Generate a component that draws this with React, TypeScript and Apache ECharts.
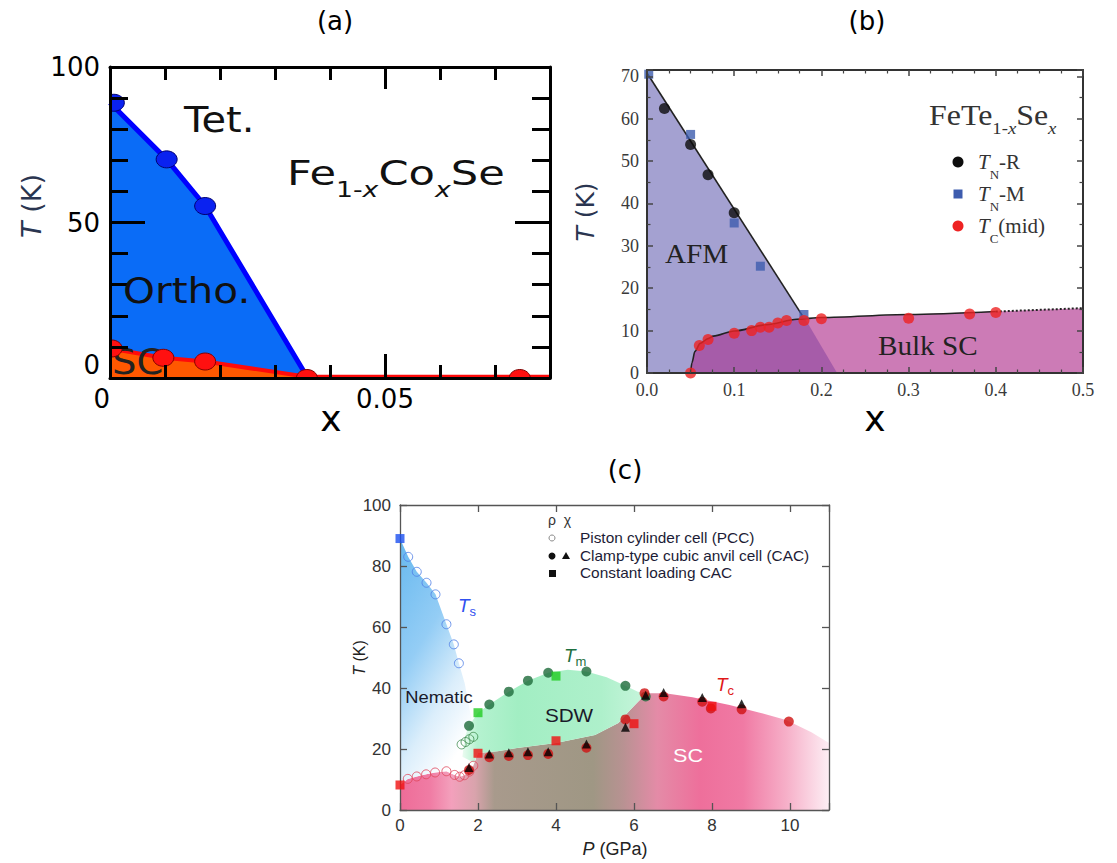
import React, { useEffect, useRef } from 'react';
import * as echarts from 'echarts';

// ---------------- Panel (a): Fe1-xCoxSe ----------------
const aStructX = [0.0007, 0.0103, 0.0173];
const aStructT = [88.5, 70.3, 55.3];
const aStructLineX = [0, 0.0103, 0.0173, 0.0358];
const aStructLineT = [88.5, 70.3, 55.3, 0.5];
const aScX = [0.0003, 0.0097, 0.0173, 0.0358, 0.0745];
const aScT = [9.5, 6.5, 5.3, 0, 0];
const aScLineX = [0, 0.0097, 0.0173, 0.0358, 0.08];
const aScLineT = [9.5, 6.5, 5.3, 0.4, 0.4];
const aOrthoPolyX = [0, 0, 0.0103, 0.0173, 0.0358, 0.0358];
const aOrthoPolyT = [0, 88.5, 70.3, 55.3, 0.5, 0];
const aScPolyX = [0, 0, 0.0097, 0.0173, 0.0358, 0.0358];
const aScPolyT = [0, 9.5, 6.5, 5.3, 0.4, 0];

// ---------------- Panel (b): FeTe1-xSex ----------------
const bTnRX = [0.02, 0.05, 0.07, 0.1];
const bTnRT = [62.4, 53.9, 46.8, 37.8];
const bTnMX = [0.002, 0.05, 0.1, 0.13, 0.18];
const bTnMT = [70.5, 56.3, 35.4, 25.2, 13.8];
const bTcX = [0.05, 0.06, 0.07, 0.1, 0.12, 0.13, 0.14, 0.15, 0.16, 0.18, 0.2, 0.3, 0.37, 0.4];
const bTcT = [0, 6.5, 7.9, 9.4, 10, 10.8, 10.8, 11.8, 12.4, 12.4, 12.8, 12.9, 13.9, 14.3];
const bAfmLineX = [0, 0.178];
const bAfmLineT = [70.8, 13.6];
const bScCurveX = [0.05, 0.0515, 0.055, 0.061, 0.07, 0.076, 0.1, 0.137, 0.172, 0.2, 0.3, 0.4];
const bScCurveT = [0, 2.4, 5.1, 7.0, 8.1, 8.7, 9.9, 11.4, 12.7, 13.1, 13.8, 14.5];
const bScDotX = [0.4, 0.45, 0.5];
const bScDotT = [14.5, 14.9, 15.3];
const bAfmPolyX = [0, 0, 0.178, 0.218];
const bAfmPolyT = [0, 70.8, 13.6, 0];
const bScPolyX = [0.05, 0.0515, 0.055, 0.061, 0.07, 0.076, 0.1, 0.137, 0.172, 0.2, 0.3, 0.4, 0.45, 0.5, 0.5];
const bScPolyT = [0, 2.4, 5.1, 7.0, 8.1, 8.7, 9.9, 11.4, 12.7, 13.1, 13.8, 14.5, 14.9, 15.3, 0];
const bOverPolyX = [0.05, 0.0515, 0.055, 0.061, 0.07, 0.076, 0.1, 0.137, 0.172, 0.181, 0.218];
const bOverPolyT = [0, 2.4, 5.1, 7.0, 8.1, 8.7, 9.9, 11.4, 12.7, 12.9, 0];

// ---------------- Panel (c): FeSe under pressure ----------------
const cTsSqP = [0];
const cTsSqT = [89];
const cTsOpenP = [0.21, 0.43, 0.68, 0.91, 1.19, 1.38, 1.51];
const cTsOpenT = [83, 78.1, 74.5, 70.7, 60.9, 54.3, 48.1];
const cTmOpenP = [1.58, 1.68, 1.78, 1.88];
const cTmOpenT = [21.5, 22.3, 23.2, 24];
const cTmCacP = [1.77, 2.29, 2.79, 3.28, 3.8, 4.78, 5.78, 6.3];
const cTmCacT = [27.6, 34.6, 38.8, 42.4, 45, 45.4, 40.7, 37.2];
const cTmSqP = [2, 4];
const cTmSqT = [31.9, 43.9];
const cTcOpenP = [0.2, 0.43, 0.67, 0.9, 1.19, 1.4, 1.53, 1.65, 1.78, 1.88];
const cTcOpenT = [10.2, 11, 11.7, 12.3, 12.7, 11.5, 10.9, 11.4, 12.6, 14.5];
const cTcSqP = [0, 2, 4, 6, 8];
const cTcSqT = [8.2, 18.6, 22.7, 28.3, 34];
const cTcCacP = [1.77, 2.29, 2.79, 3.28, 3.8, 4.78, 5.78, 6.27, 6.76, 7.75, 7.97, 8.76, 9.97];
const cTcCacT = [13.1, 17.3, 17.7, 18, 18.4, 20.4, 29.7, 38.3, 37.2, 35.5, 33.3, 33, 29];
const cTcChiP = [1.77, 2.29, 2.79, 3.28, 3.8, 4.78, 5.78, 6.3, 6.76, 7.75, 8.76];
const cTcChiT = [13.9, 18.4, 18.8, 19.1, 19.1, 21.6, 27.1, 37.6, 38.5, 36.9, 34.8];
const cNemPolyP = [0, 0, 0.21, 0.43, 0.68, 0.91, 1.19, 1.38, 1.51, 1.66, 1.8, 1.9, 1.95, 1.88, 1.78, 1.65, 1.53, 1.4, 1.19, 0.9, 0.67, 0.43, 0.2];
const cNemPolyT = [8.2, 89, 83, 78.1, 74.5, 70.7, 60.9, 54.3, 48.1, 41.5, 32, 24, 17, 14.5, 12.6, 11.4, 10.9, 11.5, 12.7, 12.3, 11.7, 11, 10.2];
const cScPolyP = [0, 0, 0.2, 0.43, 0.67, 0.9, 1.19, 1.4, 1.53, 1.65, 1.78, 1.9, 2.0, 2.5, 3, 4, 5, 5.6, 5.9, 6.2, 6.35, 6.8, 7.5, 8.45, 9.2, 9.9, 10.55, 11, 11];
const cScPolyT = [0, 8.2, 10.2, 11, 11.7, 12.3, 12.7, 11.5, 10.9, 11.4, 12.6, 15.5, 18.7, 19.3, 20.3, 22, 24.6, 28.5, 32.8, 36.7, 38.3, 38.3, 37, 34.4, 32, 29.5, 25.5, 22, 0];
const cSdwPolyP = [1.6, 1.66, 1.77, 2.0, 2.29, 2.79, 3.28, 3.8, 4.3, 4.78, 5.3, 5.78, 6.1, 6.35, 6.2, 5.9, 5.6, 5, 4, 3, 2.5, 2.0, 1.9];
const cSdwPolyT = [17.5, 24, 27.6, 31.9, 34.6, 38.8, 42.4, 45, 46, 45.4, 43.5, 40.7, 38.8, 38.3, 36.7, 32.8, 28.5, 24.6, 22, 20.3, 19.3, 18.7, 15.5];

const FA = 'DejaVu Sans';
const FB = 'Liberation Serif';
const FC = 'Liberation Sans';

const A = { xAxisIndex: 0, yAxisIndex: 0 };
const B = { xAxisIndex: 4, yAxisIndex: 2 };
const C = { xAxisIndex: 6, yAxisIndex: 4 };

const zip = (xs: number[], ys: number[]) => xs.map((x, i) => [x, ys[i]]);
const LG = (x: number, y: number, x2: number, y2: number, stops: [number, string][]) =>
  new echarts.graphic.LinearGradient(x, y, x2, y2, stops.map(([offset, color]) => ({ offset, color })));

function poly(ax: any, xs: number[], ys: number[], fill: any, z = 1) {
  return {
    type: 'custom', ...ax, z, silent: true,
    data: [[xs[0], ys[0]]],
    renderItem: (_p: any, api: any) => ({
      type: 'polygon',
      shape: { points: xs.map((x, i) => api.coord([x, ys[i]])) },
      style: { fill, stroke: 'none' },
    }),
  };
}
// ellipse markers clipped to the plot area (panel a)
function ellipses(ax: any, xs: number[], ys: number[], fill: string, stroke: string, z = 4) {
  return {
    type: 'custom', ...ax, z, silent: true,
    data: zip(xs, ys),
    renderItem: (params: any, api: any) => {
      const p = api.coord([api.value(0), api.value(1)]);
      const cs = params.coordSys;
      return {
        type: 'ellipse',
        shape: { cx: p[0], cy: p[1], rx: 10.5, ry: 8.5 },
        style: { fill, stroke, lineWidth: 1 },
        clipPath: { type: 'rect', shape: { x: cs.x, y: cs.y, width: cs.width, height: cs.height } },
      };
    },
  };
}
function line(ax: any, xs: number[], ys: number[], color: string, width: number, extra: any = {}) {
  return {
    type: 'line', ...ax, data: zip(xs, ys), showSymbol: false, symbol: 'none', silent: true, z: 3,
    lineStyle: { color, width, ...(extra.lineStyle || {}) }, ...(extra.smooth !== undefined ? { smooth: extra.smooth, smoothMonotone: 'x' } : {}),
  };
}
function scat(ax: any, xs: number[], ys: number[], symbol: string, size: any, itemStyle: any, z = 4) {
  return { type: 'scatter', ...ax, data: zip(xs, ys), symbol, symbolSize: size, itemStyle, z, silent: true, clip: true };
}

const near = (v: number, t: number) => Math.abs(v - t) < 1e-9;
const axLineA = { show: true, onZero: false, lineStyle: { color: '#000', width: 3 } };
const noLine = { show: false, onZero: false };
const noLabel = { show: false };
const noSplit = { show: false };

const xAxes: any[] = [
  // (a)
  { gridIndex: 0, type: 'value', min: 0, max: 0.08, interval: 0.01, position: 'bottom', z: 5, axisLine: axLineA,
    axisTick: { show: true, inside: true, length: 13, lineStyle: { color: '#000', width: 3 } },
    axisLabel: { show: true, formatter: (v: number) => (near(v, 0) ? '0' : near(v, 0.05) ? '0.05' : ''), fontFamily: FA, fontSize: 26, color: '#000', margin: 8, alignMinLabel: 'right' },
    splitLine: noSplit },
  { gridIndex: 0, type: 'value', min: 0, max: 0.08, interval: 0.05, position: 'bottom', z: 5, axisLine: noLine,
    axisTick: { show: true, inside: true, length: 24, lineStyle: { color: '#000', width: 3 } }, axisLabel: noLabel, splitLine: noSplit },
  { gridIndex: 0, type: 'value', min: 0, max: 0.08, interval: 0.01, position: 'top', z: 5, axisLine: axLineA,
    axisTick: { show: true, inside: true, length: 13, lineStyle: { color: '#000', width: 3 } }, axisLabel: noLabel, splitLine: noSplit },
  { gridIndex: 0, type: 'value', min: 0, max: 0.08, interval: 0.05, position: 'top', z: 5, axisLine: noLine,
    axisTick: { show: true, inside: true, length: 22, lineStyle: { color: '#000', width: 3 } }, axisLabel: noLabel, splitLine: noSplit },
  // (b)
  { gridIndex: 1, type: 'value', min: 0, max: 0.5, interval: 0.1, position: 'bottom', z: 5,
    axisLine: { show: true, onZero: false, lineStyle: { color: '#333', width: 2 } },
    axisTick: { show: true, inside: true, length: 6, lineStyle: { color: '#444', width: 1.5 } },
    minorTick: { show: true, splitNumber: 4, length: 3.5, lineStyle: { color: '#444', width: 1.2 } },
    axisLabel: { show: true, formatter: (v: number) => v.toFixed(1), fontFamily: FB, fontSize: 18, color: '#3a3a3a', margin: 8 },
    splitLine: noSplit, minorSplitLine: noSplit },
  { gridIndex: 1, type: 'value', min: 0, max: 0.5, interval: 0.1, position: 'top', z: 5,
    axisLine: { show: true, onZero: false, lineStyle: { color: '#333', width: 2 } },
    axisTick: { show: true, inside: true, length: 6, lineStyle: { color: '#444', width: 1.5 } },
    minorTick: { show: true, splitNumber: 4, length: 3.5, lineStyle: { color: '#444', width: 1.2 } },
    axisLabel: noLabel, splitLine: noSplit, minorSplitLine: noSplit },
  // (c)
  { gridIndex: 2, type: 'value', min: 0, max: 11, interval: 2, position: 'bottom', z: 5,
    axisLine: { show: true, onZero: false, lineStyle: { color: '#555', width: 1.3 } },
    axisTick: { show: true, inside: true, length: 7, lineStyle: { color: '#555', width: 1.3 } },
    axisLabel: { show: true, formatter: (v: number) => (v % 2 === 0 ? String(v) : ''), fontFamily: FC, fontSize: 17, color: '#333', margin: 7 },
    splitLine: noSplit },
  { gridIndex: 2, type: 'value', min: 0, max: 11, interval: 2, position: 'top', z: 5,
    axisLine: { show: true, onZero: false, lineStyle: { color: '#555', width: 1.3 } },
    axisTick: { show: true, inside: true, length: 7, lineStyle: { color: '#555', width: 1.3 } },
    axisLabel: noLabel, splitLine: noSplit },
];

const yAxes: any[] = [
  // (a)
  { gridIndex: 0, type: 'value', min: 0, max: 100, interval: 50, position: 'left', z: 5, axisLine: axLineA,
    axisTick: { show: true, inside: true, length: 35, lineStyle: { color: '#000', width: 3 } },
    minorTick: { show: true, splitNumber: 5, length: 18, lineStyle: { color: '#000', width: 3 } },
    axisLabel: { show: true, fontFamily: FA, fontSize: 26, color: '#000', margin: 10, verticalAlignMinLabel: 'bottom' },
    splitLine: noSplit, minorSplitLine: noSplit },
  { gridIndex: 0, type: 'value', min: 0, max: 100, interval: 50, position: 'right', z: 5, axisLine: axLineA,
    axisTick: { show: true, inside: true, length: 35, lineStyle: { color: '#000', width: 3 } },
    minorTick: { show: true, splitNumber: 5, length: 18, lineStyle: { color: '#000', width: 3 } },
    axisLabel: noLabel, splitLine: noSplit, minorSplitLine: noSplit },
  // (b)
  { gridIndex: 1, type: 'value', min: 0, max: 71.5, interval: 10, position: 'left', z: 5,
    axisLine: { show: true, onZero: false, lineStyle: { color: '#333', width: 2 } },
    axisTick: { show: true, inside: true, length: 6, lineStyle: { color: '#444', width: 1.5 } },
    minorTick: { show: true, splitNumber: 2, length: 3.5, lineStyle: { color: '#444', width: 1.2 } },
    axisLabel: { show: true, formatter: (v: number) => (v % 10 === 0 ? String(v) : ''), fontFamily: FB, fontSize: 18, color: '#3a3a3a', margin: 8 },
    splitLine: noSplit, minorSplitLine: noSplit },
  { gridIndex: 1, type: 'value', min: 0, max: 71.5, interval: 10, position: 'right', z: 5,
    axisLine: { show: true, onZero: false, lineStyle: { color: '#333', width: 2 } },
    axisTick: { show: true, inside: true, length: 6, lineStyle: { color: '#444', width: 1.5 } },
    minorTick: { show: true, splitNumber: 2, length: 3.5, lineStyle: { color: '#444', width: 1.2 } },
    axisLabel: noLabel, splitLine: noSplit, minorSplitLine: noSplit },
  // (c)
  { gridIndex: 2, type: 'value', min: 0, max: 100, interval: 20, position: 'left', z: 5,
    axisLine: { show: true, onZero: false, lineStyle: { color: '#555', width: 1.3 } },
    axisTick: { show: true, inside: true, length: 7, lineStyle: { color: '#555', width: 1.3 } },
    axisLabel: { show: true, fontFamily: FC, fontSize: 17, color: '#333', margin: 9 },
    splitLine: noSplit },
  { gridIndex: 2, type: 'value', min: 0, max: 100, interval: 20, position: 'right', z: 5,
    axisLine: { show: true, onZero: false, lineStyle: { color: '#555', width: 1.3 } },
    axisTick: { show: true, inside: true, length: 7, lineStyle: { color: '#555', width: 1.3 } },
    axisLabel: noLabel, splitLine: noSplit },
];

const series: any[] = [
  // (a)
  poly(A, aOrthoPolyX, aOrthoPolyT, '#0a6cf7'),
  poly(A, aScPolyX, aScPolyT, '#ff5800'),
  line(A, aStructLineX, aStructLineT, '#0000ff', 5),
  line(A, aScLineX, aScLineT, '#ff0a0a', 4),
  ellipses(A, aStructX, aStructT, '#0a22f0', '#000070'),
  ellipses(A, aScX, aScT, '#ff1010', '#800000'),
  // (b)
  poly(B, bAfmPolyX, bAfmPolyT, '#a4a1d1'),
  poly(B, bScPolyX, bScPolyT, '#cc7bb6'),
  poly(B, bOverPolyX, bOverPolyT, '#a65ca9'),
  line(B, bAfmLineX, bAfmLineT, '#222', 1.6),
  line(B, bScCurveX, bScCurveT, '#222', 1.6, { smooth: 0.3 }),
  line(B, bScDotX, bScDotT, '#222', 2, { lineStyle: { type: 'dotted' } }),
  scat(B, bTnRX, bTnRT, 'circle', 11, { color: '#0d0d0d' }),
  scat(B, bTnMX, bTnMT, 'rect', 9, { color: '#3d5cae' }),
  scat(B, bTcX, bTcT, 'circle', 11, { color: '#ee2323' }),
  // (c)
  poly(C, cScPolyP, cScPolyT, LG(0, 0, 1, 0, [
    [0, '#ee6c98'], [0.07, '#f07ca4'], [0.12, '#f3a0bc'], [0.175, '#d9a3ac'], [0.22, '#a89a8c'],
    [0.45, '#9f9784'], [0.52, '#b89292'], [0.6, '#e48ba7'], [0.7, '#ee6f9b'], [0.8, '#f07aa4'],
    [0.9, '#f6afc8'], [1, '#fdeef4']])),
  poly(C, cNemPolyP, cNemPolyT, LG(0, 0, 0.5, 1, [[0, '#66b8ef'], [0.45, '#94cdf5'], [0.75, '#dbeefb'], [1, '#ffffff']])),
  poly(C, cSdwPolyP, cSdwPolyT, LG(0, 0, 1, 0, [[0, '#eafbf0'], [0.08, '#b5f2d0'], [0.3, '#a2eec3'], [0.75, '#aef0cb'], [1, '#c8f5dc']])),
  scat(C, cTsOpenP, cTsOpenT, 'circle', 9, { color: 'rgba(255,255,255,0)', borderColor: '#4f7ee6', borderWidth: 1 }),
  scat(C, cTmOpenP, cTmOpenT, 'circle', 9, { color: 'rgba(255,255,255,0)', borderColor: '#3a8a4a', borderWidth: 1 }),
  scat(C, cTcOpenP, cTcOpenT, 'circle', 9, { color: 'rgba(255,255,255,0)', borderColor: '#e0455a', borderWidth: 1 }),
  scat(C, cTmCacP, cTmCacT, 'circle', 10, { color: '#1d6a3a' }),
  scat(C, cTcCacP, cTcCacT, 'circle', 10, { color: '#d01212' }),
  scat(C, cTcChiP, cTcChiT, 'triangle', 9, { color: '#000' }, 5),
  scat(C, cTsSqP, cTsSqT, 'rect', 9, { color: '#1a4ff0' }, 5),
  scat(C, cTmSqP, cTmSqT, 'rect', 9, { color: '#22cc22' }, 5),
  scat(C, cTcSqP, cTcSqT, 'rect', 9, { color: '#f01010' }, 5),
];

function txt(x: number, y: number, text: string, fontSize: number, fontFamily: string, fill: string, extra: any = {}) {
  const { align = 'left', rich, rotation, scaleX, z = 10, fontStyle } = extra;
  return {
    type: 'text', x, y, z, rotation, scaleX, silent: true,
    style: { text, fontSize, fontFamily, fill, fontStyle, rich, align, textAlign: align, verticalAlign: 'middle', textVerticalAlign: 'middle' },
  };
}
const r = (fontSize: number, fontFamily: string, fill: string, o: any = {}) => ({ fontSize, fontFamily, fill, color: fill, lineHeight: fontSize, ...o });

const graphics: any[] = [
  txt(335, 21, '(a)', 26, FA, '#000', { align: 'center' }),
  txt(867, 21, '(b)', 26, FA, '#000', { align: 'center' }),
  txt(625, 470, '(c)', 26, FA, '#000', { align: 'center' }),
  txt(331, 418, 'x', 36, FA, '#000', { align: 'center' }),
  txt(875, 418, 'x', 36, FA, '#000', { align: 'center' }),
  txt(31, 206, '{i|T}{n| (K)}', 27, FA, '#2a3550', { align: 'center', rotation: Math.PI / 2, rich: { i: r(27, FA, '#2a3550', { fontStyle: 'italic' }), n: r(27, FA, '#2a3550') } }),
  txt(585, 212, '{i|T}{n| (K)}', 25, FA, '#2a3550', { align: 'center', rotation: Math.PI / 2, rich: { i: r(25, FA, '#2a3550', { fontStyle: 'italic' }), n: r(25, FA, '#2a3550') } }),
  txt(359, 658, '{i|T}{n| (K)}', 16, FC, '#222', { align: 'center', rotation: Math.PI / 2, rich: { i: r(16, FC, '#222', { fontStyle: 'italic' }), n: r(16, FC, '#222') } }),
  txt(615, 849, '{i|P}{n| (GPa)}', 18, FC, '#222', { align: 'center', rich: { i: r(18, FC, '#222', { fontStyle: 'italic' }), n: r(18, FC, '#222') } }),
  // (a) labels
  txt(184, 120, 'Tet.', 35, FA, '#111', { scaleX: 1.14 }),
  txt(287, 173, '{m|Fe}{s|1-}{si|x}{m|Co}{si|x}{m|Se}', 34, FA, '#111', {
    scaleX: 1.27,
    rich: { m: r(34, FA, '#111'), s: r(21, FA, '#111', { padding: [34, 0, 0, 0] }), si: r(21, FA, '#111', { fontStyle: 'italic', padding: [34, 0, 0, 0] }) },
  }),
  txt(123, 291, 'Ortho.', 35, FA, '#111', { scaleX: 1.16 }),
  txt(112, 362, 'SC', 35, FA, '#222', { scaleX: 1.1, z: 3.5 }),
  // (b) labels
  txt(929, 115, '{m|FeTe}{s|1-}{si|x}{m|Se}{si|x}', 29, FB, '#333', {
    scaleX: 1.1,
    rich: { m: r(29, FB, '#333'), s: r(17, FB, '#333', { padding: [26, 0, 0, 0] }), si: r(17, FB, '#333', { fontStyle: 'italic', padding: [26, 0, 0, 0] }) },
  }),
  { type: 'circle', z: 10, silent: true, shape: { cx: 958, cy: 162, r: 5.5 }, style: { fill: '#0d0d0d' } },
  { type: 'rect', z: 10, silent: true, shape: { x: 953.5, y: 189.5, width: 9, height: 9 }, style: { fill: '#3d5cae' } },
  { type: 'circle', z: 10, silent: true, shape: { cx: 958, cy: 226, r: 5.5 }, style: { fill: '#ee2323' } },
  txt(978, 162, '{i|T}{s|N}{m|-R}', 21, FB, '#333', { rich: { i: r(21, FB, '#333', { fontStyle: 'italic' }), s: r(13, FB, '#333', { padding: [24, 0, 0, 0] }), m: r(21, FB, '#333') } }),
  txt(978, 194, '{i|T}{s|N}{m|-M}', 21, FB, '#333', { rich: { i: r(21, FB, '#333', { fontStyle: 'italic' }), s: r(13, FB, '#333', { padding: [24, 0, 0, 0] }), m: r(21, FB, '#333') } }),
  txt(978, 226, '{i|T}{s|C}{m|(mid)}', 21, FB, '#333', { rich: { i: r(21, FB, '#333', { fontStyle: 'italic' }), s: r(13, FB, '#333', { padding: [24, 0, 0, 0] }), m: r(21, FB, '#333') } }),
  txt(665, 254, 'AFM', 27, FB, '#222', { scaleX: 1.08 }),
  txt(878, 346, 'Bulk SC', 27, FB, '#222', { scaleX: 1.08 }),
  // (c) legend
  txt(548, 520, 'ρ  χ', 14, FC, '#333'),
  { type: 'circle', z: 10, silent: true, shape: { cx: 552, cy: 538, r: 3 }, style: { fill: 'none', stroke: '#888', lineWidth: 1 } },
  txt(580, 538, 'Piston cylinder cell (PCC)', 14, FC, '#1c1c36', { scaleX: 1.1 }),
  { type: 'circle', z: 10, silent: true, shape: { cx: 552, cy: 556, r: 3.5 }, style: { fill: '#111' } },
  { type: 'polygon', z: 10, silent: true, shape: { points: [[562, 559], [570, 559], [566, 552]] }, style: { fill: '#111' } },
  txt(580, 556, 'Clamp-type cubic anvil cell (CAC)', 14, FC, '#1c1c36', { scaleX: 1.1 }),
  { type: 'rect', z: 10, silent: true, shape: { x: 549, y: 570, width: 7, height: 7 }, style: { fill: '#111' } },
  txt(580, 573, 'Constant loading CAC', 14, FC, '#1c1c36', { scaleX: 1.1 }),
  // (c) region labels
  txt(439, 697, 'Nematic', 17, FC, '#1a1a2a', { align: 'center', scaleX: 1.08 }),
  txt(569, 716, 'SDW', 18, FC, '#1a1a2a', { align: 'center', scaleX: 1.15 }),
  txt(688, 756, 'SC', 18, FC, '#ffffff', { align: 'center', scaleX: 1.2 }),
  txt(458, 605, '{i|T}{s|s}', 19, FC, '#3050f0', { rich: { i: r(19, FC, '#3050f0', { fontStyle: 'italic' }), s: r(13, FC, '#3050f0', { padding: [12, 0, 0, 0] }) } }),
  txt(564, 655, '{i|T}{s|m}', 19, FC, '#1e7040', { rich: { i: r(19, FC, '#1e7040', { fontStyle: 'italic' }), s: r(13, FC, '#1e7040', { padding: [12, 0, 0, 0] }) } }),
  txt(716, 684, '{i|T}{s|c}', 19, FC, '#e01818', { rich: { i: r(19, FC, '#e01818', { fontStyle: 'italic' }), s: r(13, FC, '#e01818', { padding: [12, 0, 0, 0] }) } }),
];

const option: any = {
  animation: false,
  backgroundColor: '#ffffff',
  grid: [
    { left: 110, top: 67, width: 440, height: 311, containLabel: false },
    { left: 647, top: 70, width: 436, height: 303, containLabel: false },
    { left: 400, top: 505, width: 429, height: 305, containLabel: false },
  ],
  xAxis: xAxes,
  yAxis: yAxes,
  series,
  graphic: { elements: graphics },
};

export default function App() {
  const ref = useRef<HTMLDivElement>(null);
  useEffect(() => {
    const chart = echarts.init(ref.current as HTMLDivElement, null, { renderer: 'svg', width: 1117, height: 863 });
    chart.setOption(option);
    return () => chart.dispose();
  }, []);
  return <div ref={ref} style={{ position: 'fixed', left: 0, top: 0, width: 1117, height: 863, background: '#fff' }} />;
}
